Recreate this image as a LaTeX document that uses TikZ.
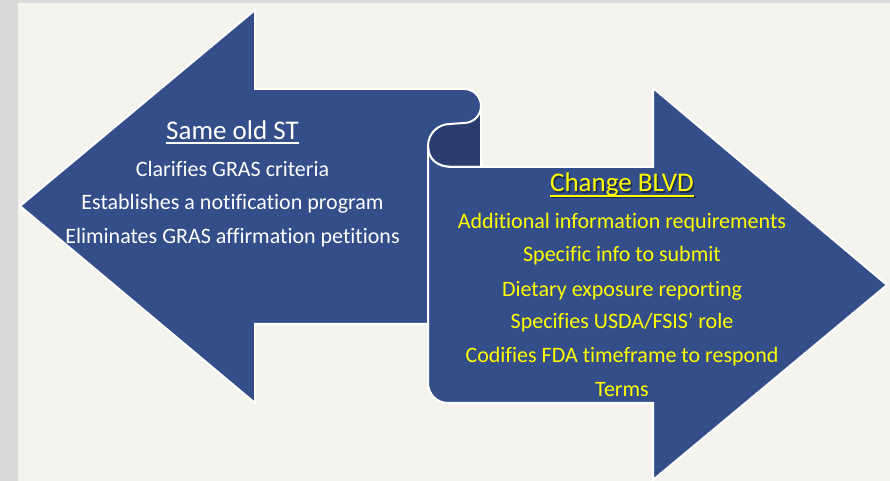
\documentclass[tikz,border=0pt]{standalone}
\usepackage{fontspec}
\setmainfont{Carlito}[Ligatures={CommonOff}]
\definecolor{bgbeige}{HTML}{F4F3EE}
\definecolor{edgegray}{HTML}{D9D9D9}
\definecolor{arrowblue}{HTML}{344E8A}
\definecolor{curldark}{HTML}{2B3D6F}
\definecolor{hiyellow}{HTML}{FFFF00}
\begin{document}
\begin{tikzpicture}[x=1pt,y=1pt,
  arrowshape/.style={fill=arrowblue, draw=white, line width=2pt, line join=miter},
  titletext/.style={anchor=base, inner sep=0pt, font=\fontsize{27}{31}\selectfont},
  bodytext/.style={anchor=base, inner sep=0pt, font=\fontsize{22}{26}\selectfont},
  ulinewhite/.style={draw=white, line width=1.8pt},
]
\useasboundingbox (0,0) rectangle (890,481);
% background
\fill[edgegray] (0,0) rectangle (890,481);
\fill[bgbeige] (18,0) rectangle (890,478);
% left arrow
\draw[arrowshape] (20,275) -- (255,471) -- (255,392) -- (464,392)
  arc[start angle=90,end angle=0,radius=17] -- (481,157) -- (255,157) -- (255,78) -- cycle;
% dark curl
\draw[arrowshape, fill=curldark] (481,375) arc[start angle=0,end angle=-90,radius=17]
  -- (450,357) arc[start angle=90,end angle=180,radius=22]
  .. controls (428,322) and (437,314) .. (452,314) -- (481,314) -- cycle;
% right arrow
\draw[arrowshape] (887,196) -- (653,393) -- (653,314) -- (452,314)
  .. controls (437,314) and (428,322) .. (428,335) -- (428,98)
  arc[start angle=180,end angle=270,radius=20] -- (653,78) -- (653,1) -- cycle;
% left texts
\node[titletext, text=white] (ltitle) at (232.5,341.7) {Same old ST};
\draw[ulinewhite] ([yshift=-3.8pt]ltitle.base west) -- ([yshift=-3.8pt]ltitle.base east);
\node[bodytext, text=white] (l1) at (232.5,304.3) {Clarifies GRAS criteria};
\node[bodytext, text=white] (l2) at (232.5,271) {Establishes a notification program};
\node[bodytext, text=white] (l3) at (232.5,237.7) {Eliminates GRAS affirmation petitions};
% right texts
\node[titletext, text=black, opacity=0.45] (rshadow) at (623.5,287.5) {Change BLVD};
\draw[draw=black, opacity=0.45, line width=1.8pt] ([yshift=-3.8pt]rshadow.base west) -- ([yshift=-3.8pt]rshadow.base east);
\node[titletext, text=hiyellow] (rtitle) at (622,289) {Change BLVD};
\draw[draw=hiyellow, line width=1.8pt] ([yshift=-3.8pt]rtitle.base west) -- ([yshift=-3.8pt]rtitle.base east);
\node[bodytext, text=hiyellow] (r1) at (622,252) {Additional information requirements};
\node[bodytext, text=hiyellow] (r2) at (622,219) {Specific info to submit};
\node[bodytext, text=hiyellow] (r3) at (622,184.3) {Dietary exposure reporting};
\node[bodytext, text=hiyellow] (r4) at (622,152) {Specifies USDA/FSIS’ role};
\node[bodytext, text=hiyellow] (r5) at (622,118) {Codifies FDA timeframe to respond};
\node[bodytext, text=hiyellow] (r6) at (622,84.3) {Terms};
\end{tikzpicture}
\end{document}
